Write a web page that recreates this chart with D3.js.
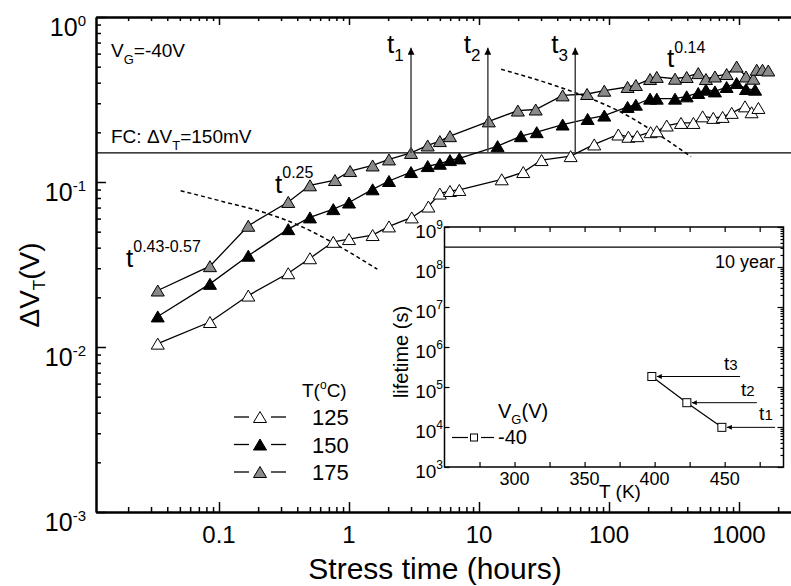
<!DOCTYPE html>
<html>
<head>
<meta charset="utf-8">
<script src="https://cdn.jsdelivr.net/npm/d3@7"></script>
<style>
  body { margin: 0; background: #fff; }
  text { font-family: "Liberation Sans", Arial, sans-serif; fill: #000; }
</style>
</head>
<body>
<div id="chart"></div>
<script>
// stress time (hours) and threshold shift (V), one pair per temperature
var hours125 = [0.0338, 0.0852, 0.168, 0.341, 0.501, 0.757, 1.0, 1.52, 2.03, 3.04, 4.08, 5.0, 5.98, 7.06, 14.96, 21.9, 30.3, 50.7, 77, 118, 141, 165, 209, 233, 278, 358, 446, 525, 634, 748, 879, 1112, 1250, 1410];
var dvt125 = [0.01048, 0.01417, 0.0205, 0.028, 0.0345, 0.0434, 0.0451, 0.0477, 0.0538, 0.061, 0.071, 0.0851, 0.0882, 0.0895, 0.1038, 0.1149, 0.1358, 0.1435, 0.1689, 0.194, 0.188, 0.1896, 0.2004, 0.203, 0.22, 0.228, 0.228, 0.25, 0.2447, 0.248, 0.2624, 0.2874, 0.2646, 0.281];

var hours150 = [0.0338, 0.0852, 0.168, 0.341, 0.501, 0.757, 1.0, 1.52, 2.03, 3.0, 4.03, 5.0, 5.98, 7.06, 13.9, 21, 27.8, 44, 68.5, 92, 139, 161, 207, 233, 322, 396, 486, 557, 653, 803, 959, 1132, 1330];
var dvt150 = [0.01532, 0.02414, 0.03576, 0.0518, 0.061, 0.0685, 0.0751, 0.0903, 0.1014, 0.1149, 0.1249, 0.129, 0.1358, 0.139, 0.165, 0.1895, 0.2004, 0.223, 0.241, 0.2527, 0.285, 0.294, 0.32, 0.32, 0.32, 0.3304, 0.3463, 0.3626, 0.354, 0.3765, 0.398, 0.366, 0.3626];

var hours175 = [0.0338, 0.0852, 0.168, 0.341, 0.501, 0.78, 1.02, 1.52, 2.03, 3.0, 4.03, 5.0, 5.98, 11.9, 19.9, 27.3, 44, 67.8, 92, 139, 161, 207, 233, 322, 396, 486, 557, 653, 803, 959, 1132, 1289, 1368, 1516, 1679];
var dvt175 = [0.022, 0.0309, 0.0543, 0.0757, 0.0955, 0.1028, 0.1165, 0.126, 0.137, 0.150, 0.1665, 0.177, 0.1896, 0.233, 0.271, 0.275, 0.335, 0.3415, 0.3576, 0.3765, 0.387, 0.4207, 0.4334, 0.4226, 0.433, 0.457, 0.4207, 0.436, 0.451, 0.501, 0.436, 0.4226, 0.479, 0.479, 0.474];

var tempLabels = ["125", "150", "175"];

// failure criterion and the times it is reached
var failCriterion = 0.15;
var failTimes = [3.0, 11.7, 55];
var failNames = ["1", "2", "3"];
var arrowTop = 0.65;

// dashed guides (hours, V)
var guideHiT = [14.8, 42, 71.4, 121.6, 232.8, 427.6];
var guideHiV = [0.482, 0.375, 0.3216, 0.2667, 0.197, 0.1423];
var guideLoT = [0.0507, 0.1079, 0.2328, 0.445, 0.853, 1.65];
var guideLoV = [0.0886, 0.076, 0.0646, 0.0531, 0.0405, 0.0296];

// inset: lifetime vs temperature
var insetT = [398, 423, 448];
var insetLife = [1.83e5, 4.05e4, 9.8e3];
var insetNames = ["3", "2", "1"];
var insetArrowT = [461, 473, 486];
var tenYears = 3.156e8;
var insetTicks = [275, 300, 325, 350, 375, 400, 425, 450, 475];
var insetLabels = [300, 350, 400, 450];

var W = 791, H = 586;
var svg = d3.select("#chart").append("svg").attr("width", W).attr("height", H);

var defs = svg.append("defs");
defs.append("marker").attr("id", "ahBig").attr("viewBox", "0 0 10 10")
  .attr("refX", 10).attr("refY", 5).attr("markerUnits", "userSpaceOnUse")
  .attr("markerWidth", 13).attr("markerHeight", 7).attr("orient", "auto")
  .append("path").attr("d", "M0,0L10,5L0,10Z").attr("fill", "#000");
defs.append("marker").attr("id", "ahSmall").attr("viewBox", "0 0 10 10")
  .attr("refX", 10).attr("refY", 5).attr("markerUnits", "userSpaceOnUse")
  .attr("markerWidth", 8).attr("markerHeight", 5).attr("orient", "auto")
  .append("path").attr("d", "M0,0L10,5L0,10Z").attr("fill", "#000");

function logTicks(lo, hi, major) {
  var out = [];
  for (var e = Math.floor(Math.log10(lo)); e <= Math.ceil(Math.log10(hi)); e++) {
    for (var m = 1; m < 10; m++) {
      if (major && m != 1) continue;
      if (!major && m == 1) continue;
      var v = +(m * Math.pow(10, e)).toPrecision(6);
      if (v >= lo && v <= hi) out.push(v);
    }
  }
  return out;
}

// main scales
var x = d3.scaleLog().domain([0.1, 1000]).range([219, 739]);
var xAx = x.copy().domain([0.0113, 2600]).range([x(0.0113), x(2600)]);
var y = d3.scaleLog().domain([0.001, 1]).range([512, 17]);

function styleAxis(g) {
  g.select(".domain").attr("stroke", "#000").attr("stroke-width", 2);
  g.selectAll(".tick line").attr("stroke", "#000").attr("stroke-width", 1.5);
  g.selectAll(".tick text").remove();
}

var xMinor = logTicks(0.0113, 2600, false), xMajor = logTicks(0.0113, 2600, true);
var yMinor = logTicks(0.001, 1, false), yMajor = logTicks(0.001, 1, true);

svg.append("g").attr("transform", "translate(0,512)")
  .call(d3.axisBottom(xAx).tickValues(xMinor).tickSize(-5).tickSizeOuter(0)).call(styleAxis);
svg.append("g").attr("transform", "translate(0,512)")
  .call(d3.axisBottom(xAx).tickValues(xMajor).tickSize(-10).tickSizeOuter(0)).call(styleAxis);
svg.append("g").attr("transform", "translate(0,17)")
  .call(d3.axisTop(xAx).tickValues(xMinor).tickSize(-4).tickSizeOuter(0)).call(styleAxis);
svg.append("g").attr("transform", "translate(0,17)")
  .call(d3.axisTop(xAx).tickValues(xMajor).tickSize(-8).tickSizeOuter(0)).call(styleAxis);
svg.append("g").attr("transform", "translate(96,0)")
  .call(d3.axisLeft(y).tickValues(yMinor).tickSize(-5).tickSizeOuter(0)).call(styleAxis);
svg.append("g").attr("transform", "translate(96,0)")
  .call(d3.axisLeft(y).tickValues(yMajor).tickSize(-10).tickSizeOuter(0)).call(styleAxis);

// x tick labels
svg.selectAll("text.xl").data([0.1, 1, 10, 100, 1000]).enter().append("text")
  .attr("class", "xl").attr("x", function(d) { return x(d); }).attr("y", 543)
  .attr("text-anchor", "middle").style("font-size", "24px")
  .text(function(d) { return d; });

// y tick labels 10^n
yMajor.forEach(function(d) {
  var t = svg.append("text").attr("x", 86).attr("y", y(d) + 19).attr("text-anchor", "end");
  t.append("tspan").style("font-size", "25px").text("10");
  t.append("tspan").attr("dy", -10).style("font-size", "15px").text(Math.round(Math.log10(d)));
});

// axis titles
svg.append("text").attr("x", 435).attr("y", 579).attr("text-anchor", "middle")
  .style("font-size", "30px").text("Stress time (hours)");
var yt = svg.append("text").attr("transform", "translate(39,285) rotate(-90)").attr("text-anchor", "middle")
  .style("font-size", "28px");
yt.append("tspan").text("\u0394V");
yt.append("tspan").attr("dy", 6).style("font-size", "17px").text("T");
yt.append("tspan").attr("dy", -6).text("(V)");

// failure criterion line
svg.append("line").attr("x1", 96).attr("x2", W).attr("y1", y(failCriterion)).attr("y2", y(failCriterion))
  .attr("stroke", "#000").attr("stroke-width", 1.3);

// dashed guides
var guideLine = d3.line().x(function(d) { return x(d[0]); }).y(function(d) { return y(d[1]); }).curve(d3.curveMonotoneX);
[[guideHiT, guideHiV], [guideLoT, guideLoV]].forEach(function(g) {
  svg.append("path").attr("d", guideLine(d3.zip(g[0], g[1])))
    .attr("fill", "none").attr("stroke", "#000").attr("stroke-width", 1.5).attr("stroke-dasharray", "4,3");
});

// series
var series = [
  { name: tempLabels[0], t: hours125, v: dvt125, fill: "#ffffff" },
  { name: tempLabels[1], t: hours150, v: dvt150, fill: "#000000" },
  { name: tempLabels[2], t: hours175, v: dvt175, fill: "#8a8a8a" }
];
var triPath = "M0,-5.5L6.5,5.5L-6.5,5.5Z";
var line = d3.line().x(function(d) { return x(d[0]); }).y(function(d) { return y(d[1]); });

series.forEach(function(s) {
  svg.append("path").attr("d", line(d3.zip(s.t, s.v)))
    .attr("fill", "none").attr("stroke", "#000").attr("stroke-width", 1.3);
});
series.forEach(function(s) {
  svg.append("g").selectAll("path").data(d3.zip(s.t, s.v)).enter().append("path")
    .attr("d", triPath)
    .attr("transform", function(d) { return "translate(" + x(d[0]) + "," + y(d[1]) + ")"; })
    .attr("fill", s.fill).attr("stroke", "#000").attr("stroke-width", 1);
});

// vertical arrows t1..t3
failTimes.forEach(function(d, i) {
  svg.append("line").attr("x1", x(d)).attr("x2", x(d))
    .attr("y1", y(failCriterion)).attr("y2", y(arrowTop))
    .attr("stroke", "#444").attr("stroke-width", 1.5).attr("marker-end", "url(#ahBig)");
  var t = svg.append("text").attr("x", x(d) - 24).attr("y", 53).style("font-size", "26px");
  t.append("tspan").text("t");
  t.append("tspan").attr("dy", 8).style("font-size", "17px").text(failNames[i]);
});

// text annotations
function subText(px, py, parts, size) {
  var t = svg.append("text").attr("x", px).attr("y", py).style("font-size", size + "px");
  parts.forEach(function(p) {
    var ts = t.append("tspan").text(p.s);
    if (p.dy) ts.attr("dy", p.dy);
    if (p.size) ts.style("font-size", p.size + "px");
  });
  return t;
}
subText(111, 57, [{ s: "V" }, { s: "G", dy: 7, size: 13 }, { s: "=-40V", dy: -7 }], 19);
subText(111, 143, [{ s: "FC: \u0394V" }, { s: "T", dy: 7, size: 13 }, { s: "=150mV", dy: -7 }], 19);
subText(275, 193, [{ s: "t" }, { s: "0.25", dy: -15, size: 16 }], 26);
subText(126, 267, [{ s: "t" }, { s: "0.43-0.57", dy: -15, size: 16 }], 26);
subText(667, 67, [{ s: "t" }, { s: "0.14", dy: -14, size: 16 }], 26);

// legend
subText(302, 397, [{ s: "T(" }, { s: "o", dy: -8, size: 12 }, { s: "C)", dy: 8 }], 19);
series.forEach(function(s, i) {
  var ly = 417 + i * 27.5;
  svg.append("line").attr("x1", 234).attr("x2", 249).attr("y1", ly).attr("y2", ly).attr("stroke", "#000").attr("stroke-width", 1.3);
  svg.append("line").attr("x1", 271).attr("x2", 286).attr("y1", ly).attr("y2", ly).attr("stroke", "#000").attr("stroke-width", 1.3);
  svg.append("path").attr("d", triPath).attr("transform", "translate(260," + ly + ")")
    .attr("fill", s.fill).attr("stroke", "#000").attr("stroke-width", 1);
  svg.append("text").attr("x", 312).attr("y", ly + 8).style("font-size", "22px").text(s.name);
});

// ---------- inset ----------
var ix = d3.scaleLinear().domain([250, 492]).range([444.5, 783.5]);
var iy = d3.scaleLog().domain([1e3, 1e9]).range([467, 227]);
var iyMajor = logTicks(1e3, 1e9, true), iyMinor = logTicks(1e3, 1e9, false);

var inset = svg.append("g");
inset.append("rect").attr("x", ix(250)).attr("y", iy(1e9)).attr("width", ix(492) - ix(250)).attr("height", iy(1e3) - iy(1e9))
  .attr("fill", "#fff").attr("stroke", "#000").attr("stroke-width", 1.5);

function styleInset(g) {
  g.select(".domain").remove();
  g.selectAll(".tick line").attr("stroke", "#000").attr("stroke-width", 1.2);
  g.selectAll(".tick text").remove();
}
inset.append("g").attr("transform", "translate(0," + iy(1e3) + ")")
  .call(d3.axisBottom(ix).tickValues(insetTicks).tickSize(-5)).call(styleInset);
inset.append("g").attr("transform", "translate(0," + iy(1e9) + ")")
  .call(d3.axisTop(ix).tickValues(insetTicks).tickSize(-5)).call(styleInset);
inset.append("g").attr("transform", "translate(" + ix(250) + ",0)")
  .call(d3.axisLeft(iy).tickValues(iyMajor).tickSize(-5)).call(styleInset);
inset.append("g").attr("transform", "translate(" + ix(492) + ",0)")
  .call(d3.axisRight(iy).tickValues(iyMajor).tickSize(-6)).call(styleInset);
inset.append("g").attr("transform", "translate(" + ix(492) + ",0)")
  .call(d3.axisRight(iy).tickValues(iyMinor).tickSize(-3)).call(styleInset);

inset.selectAll("text.ixl").data(insetLabels).enter().append("text")
  .attr("class", "ixl").attr("x", function(d) { return ix(d); }).attr("y", 485)
  .attr("text-anchor", "middle").style("font-size", "18px").text(function(d) { return d; });
iyMajor.forEach(function(d) {
  var t = inset.append("text").attr("x", 443).attr("y", iy(d) + 11).attr("text-anchor", "end");
  t.append("tspan").style("font-size", "19px").text("10");
  t.append("tspan").attr("dy", -9).style("font-size", "12px").text(Math.round(Math.log10(d)));
});
inset.append("text").attr("x", 620).attr("y", 498).attr("text-anchor", "middle").style("font-size", "19px").text("T (K)");
inset.append("text").attr("transform", "translate(408,352) rotate(-90)").attr("text-anchor", "middle")
  .style("font-size", "20px").text("lifetime (s)");

// 10 year line
inset.append("line").attr("x1", ix(250)).attr("x2", ix(492)).attr("y1", iy(tenYears)).attr("y2", iy(tenYears))
  .attr("stroke", "#000").attr("stroke-width", 1.3);
inset.append("text").attr("x", 775).attr("y", 268).attr("text-anchor", "end").style("font-size", "18px").text("10 year");

// lifetime data
var ipts = d3.zip(insetT, insetLife);
inset.append("path").attr("d", d3.line().x(function(d) { return ix(d[0]); }).y(function(d) { return iy(d[1]); })(ipts))
  .attr("fill", "none").attr("stroke", "#000").attr("stroke-width", 1.2);
inset.selectAll("rect.sq").data(ipts).enter().append("rect").attr("class", "sq")
  .attr("x", function(d) { return ix(d[0]) - 4; }).attr("y", function(d) { return iy(d[1]) - 4; })
  .attr("width", 8).attr("height", 8).attr("fill", "#fff").attr("stroke", "#000").attr("stroke-width", 1);

ipts.forEach(function(d, i) {
  var ay = iy(d[1]);
  inset.append("line").attr("x1", ix(insetArrowT[i])).attr("x2", ix(d[0]) + 5).attr("y1", ay).attr("y2", ay)
    .attr("stroke", "#000").attr("stroke-width", 1).attr("marker-end", "url(#ahSmall)");
  var t = inset.append("text").attr("x", ix(insetArrowT[i]) - 16).attr("y", ay - 7).style("font-size", "19px");
  t.append("tspan").text("t");
  t.append("tspan").style("font-size", "15px").text(insetNames[i]);
});

// inset legend
var vg = inset.append("text").attr("x", 498).attr("y", 418).style("font-size", "20px");
vg.append("tspan").text("V");
vg.append("tspan").attr("dy", 6).style("font-size", "13px").text("G");
vg.append("tspan").attr("dy", -6).text("(V)");
inset.append("line").attr("x1", 452).attr("x2", 468).attr("y1", 437.5).attr("y2", 437.5).attr("stroke", "#000").attr("stroke-width", 1.2);
inset.append("line").attr("x1", 481).attr("x2", 494).attr("y1", 437.5).attr("y2", 437.5).attr("stroke", "#000").attr("stroke-width", 1.2);
inset.append("rect").attr("x", 470.5).attr("y", 434).attr("width", 7).attr("height", 7)
  .attr("fill", "#fff").attr("stroke", "#000").attr("stroke-width", 1);
inset.append("text").attr("x", 498).attr("y", 444).style("font-size", "20px").text("-40");
</script>
</body>
</html>
